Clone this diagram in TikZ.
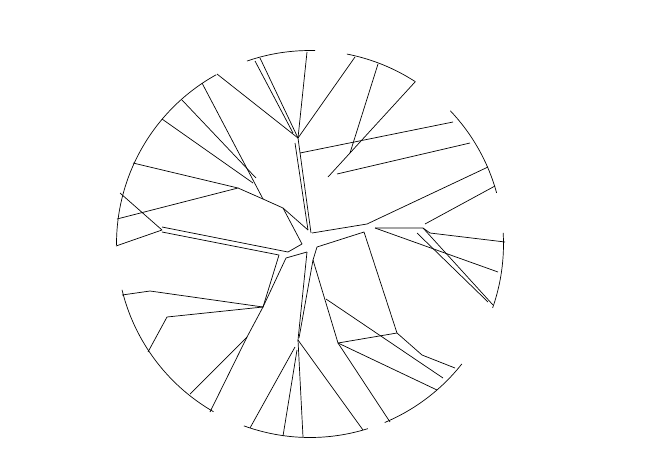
\documentclass[tikz,border=0pt]{standalone}
\usetikzlibrary{calc}
\tikzset{crack/.style={line width=0.7pt, line join=round}}

\begin{document}
\begin{tikzpicture}[x=1pt,y=-1pt]
\useasboundingbox (0,0) rectangle (667,472);
\coordinate (c) at (310,244);
\foreach \a/\b in {-119/-180.3, -88.5/-109, -57/-79, -15.3/-43.5, 19.3/-3.3, 38.3/67.3, 72.6/110, 119.9/166.3}
  \draw[crack] ($(c)+(\a:193.5)$) arc[start angle=\a, end angle=\b, radius=193.5];

\coordinate (top)   at (298,138);
\coordinate (elbow) at (283,208);
\coordinate (east)  at (317,247);
\coordinate (split) at (313,260);
\coordinate (south) at (298,340);
\coordinate (ne)    at (367,224);
\coordinate (fork)  at (423,228);
\coordinate (se)    at (397,333);
\coordinate (sw)    at (338,343);
\coordinate (west)  at (263,307);
\coordinate (low)   at (247,337);
\coordinate (knot)  at (238,188);

\draw[crack] (217,74) -- (top);
\draw[crack] (255,61) -- (293,133);
\draw[crack] (260,58) -- (top);
\draw[crack] (307,52) -- (top);
\draw[crack] (355,57) -- (top);
\draw[crack] (295,143) -- (308,230);
\draw[crack] (top) -- (311,233);
\draw[crack] (300,153) -- (453,122);
\draw[crack] (378,64) -- (350,153);
\draw[crack] (415,82) -- (328,177);
\draw[crack] (337,174) -- (470,143);
\draw[crack] (312,233) -- (ne) -- (488,167);
\draw[crack] (425,224) -- (495,186);
\draw[crack] (375,228) -- (fork) -- (430,233) -- (505,242);
\draw[crack] (375,228) -- (498,272);
\draw[crack] (fork) -- (493,305);
\draw[crack] (417,233) -- (488,302);
\draw[crack] (east) -- (364,232) -- (se) -- (422,355) -- (455,368);
\draw[crack] (se) -- (sw);
\draw[crack] (326,299) -- (443,378);
\draw[crack] (sw) -- (437,390);
\draw[crack] (sw) -- (390,422);
\draw[crack] (east) -- (split) -- (sw);
\draw[crack] (split) -- (299,338);
\draw[crack] (307,252) -- (south);
\draw[crack] (south) -- (363,430);
\draw[crack] (south) -- (303,437);
\draw[crack] (297,350) -- (283,436);
\draw[crack] (295,347) -- (250,428);
\draw[crack] (307,252) -- (286,258) -- (west);
\draw[crack] (162,227) -- (288,252) -- (302,244) -- (elbow);
\draw[crack] (162,232) -- (279,255) -- (west);
\draw[crack] (122,295) -- (150,291) -- (west);
\draw[crack] (148,352) -- (167,317) -- (west);
\draw[crack] (west) -- (low) -- (210,412);
\draw[crack] (low) -- (190,394);
\draw[crack] (120,193) -- (162,230) -- (116,246);
\draw[crack] (133,163) -- (knot) -- (117,219);
\draw[crack] (knot) -- (263,199) -- (elbow) -- (308,230);
\draw[crack] (162,119) -- (253,183);
\draw[crack] (182,100) -- (256,178);
\draw[crack] (202,83) -- (263,199);
\end{tikzpicture}
\end{document}
